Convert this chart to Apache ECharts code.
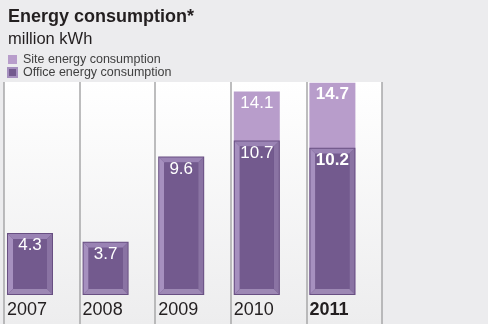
<!DOCTYPE html>
<html>
<head>
<meta charset="utf-8">
<script src="https://cdn.jsdelivr.net/npm/echarts@6/dist/echarts.min.js"></script>
<style>
  html, body { margin: 0; padding: 0; background: #ececee; }
  #chart { width: 488px; height: 324px; }
</style>
</head>
<body>
<div id="chart"></div>
<script>
// Energy consumption, million kWh
const years = ['2007', '2008', '2009', '2010', '2011'];
const siteValues = [null, null, null, 14.1, 14.7];
const officeValues = [4.3, 3.7, 9.6, 10.7, 10.2];
const highlightYear = '2011';

const FONT = '"Liberation Sans", Arial, Helvetica, sans-serif';
const BAR_W = 46;
const BAR_OFFSET = 3;
const BEVEL = 5;

function barBox(api, idx, v) {
  const base = api.coord([idx, 0]);
  const top = api.coord([idx, v]);
  const catW = api.size([1, 0])[0];
  const x0 = base[0] - catW / 2 + BAR_OFFSET;
  return { x0: x0, x1: x0 + BAR_W, y0: top[1], y1: base[1], catLeft: base[0] - catW / 2 };
}

function isBold(idx) { return years[idx] === highlightYear; }

function renderSite(params, api) {
  const idx = api.value(0);
  const v = api.value(1);
  if (v == null || isNaN(v)) return null;
  const b = barBox(api, idx, v);
  return {
    type: 'group',
    children: [
      { type: 'rect', shape: { x: b.x0, y: b.y0, width: BAR_W, height: b.y1 - b.y0 },
        style: { fill: '#b89dcb' } },
      { type: 'text', x: (b.x0 + b.x1) / 2, y: b.y0 + 3,
        style: { text: String(v), fill: '#ffffff', font: (isBold(idx) ? 'bold ' : '') + '17px ' + FONT,
                 textAlign: 'center', textVerticalAlign: 'top' } }
    ]
  };
}

function renderOffice(params, api) {
  const idx = api.value(0);
  const v = api.value(1);
  const b = barBox(api, idx, v);
  const x0 = b.x0, x1 = b.x1, y0 = b.y0, y1 = b.y1, e = BEVEL;
  const poly = (pts, fill) => ({ type: 'polygon', shape: { points: pts }, style: { fill: fill } });
  return {
    type: 'group',
    children: [
      { type: 'rect', shape: { x: x0, y: y0, width: BAR_W, height: y1 - y0 }, style: { fill: '#684f82' } },
      poly([[x0 + 1, y0 + 1], [x1 - 1, y0 + 1], [x1 - 1 - e, y0 + 1 + e], [x0 + 1 + e, y0 + 1 + e]], '#9a83b4'),
      poly([[x0 + 1, y0 + 1], [x0 + 1 + e, y0 + 1 + e], [x0 + 1 + e, y1 - 1 - e], [x0 + 1, y1 - 1]], '#a690bf'),
      poly([[x1 - 1, y0 + 1], [x1 - 1, y1 - 1], [x1 - 1 - e, y1 - 1 - e], [x1 - 1 - e, y0 + 1 + e]], '#8a73a3'),
      poly([[x0 + 1, y1 - 1], [x0 + 1 + e, y1 - 1 - e], [x1 - 1 - e, y1 - 1 - e], [x1 - 1, y1 - 1]], '#9d88b4'),
      { type: 'rect', shape: { x: x0 + 1 + e, y: y0 + 1 + e, width: BAR_W - 2 - 2 * e, height: y1 - y0 - 2 - 2 * e },
        style: { fill: '#735a8e' } },
      { type: 'text', x: (x0 + x1) / 2, y: y0 + 4,
        style: { text: String(v), fill: '#ffffff', font: (isBold(idx) ? 'bold ' : '') + '17px ' + FONT,
                 textAlign: 'center', textVerticalAlign: 'top' } },
      { type: 'text', x: b.catLeft + 3, y: y1 + 6,
        style: { text: years[idx], fill: '#231f20', font: (isBold(idx) ? 'bold ' : '') + '18px ' + FONT,
                 textAlign: 'left', textVerticalAlign: 'top' } }
    ]
  };
}

const chart = echarts.init(document.getElementById('chart'), null, { renderer: 'canvas' });
chart.setOption({
  backgroundColor: '#ececee',
  animation: false,
  title: {
    text: 'Energy consumption*',
    subtext: 'million kWh',
    left: 3, top: 3,
    itemGap: 5,
    textStyle: { fontFamily: FONT, fontSize: 18, fontWeight: 'bold', color: '#231f20' },
    subtextStyle: { fontFamily: FONT, fontSize: 16.5, color: '#231f20' }
  },
  legend: {
    orient: 'vertical',
    left: 7, top: 53, padding: 0,
    itemWidth: 9, itemHeight: 9, itemGap: 0,
    textStyle: { fontFamily: FONT, fontSize: 12.5, color: '#404040', padding: [0, 0, 0, 1] },
    data: [
      { name: 'Site energy consumption', icon: 'rect', itemStyle: { color: '#b89dcb' } },
      { name: 'Office energy consumption', icon: 'rect',
        itemStyle: { color: '#735a8e', borderColor: '#a690bf', borderWidth: 2 } }
    ]
  },
  grid: {
    left: 4, right: 106, top: 82, bottom: 0,
    show: true, borderWidth: 0,
    backgroundColor: new echarts.graphic.LinearGradient(0, 0, 0, 1, [
      { offset: 0, color: '#ffffff' },
      { offset: 1, color: '#ededee' }
    ])
  },
  xAxis: {
    type: 'category',
    data: years,
    boundaryGap: true,
    axisLine: { show: false },
    axisTick: { show: false },
    axisLabel: { show: false },
    splitLine: { show: true, interval: 0, lineStyle: { color: '#a7a7a9', width: 1.5 } }
  },
  yAxis: {
    type: 'value',
    min: -2, max: 14.75,
    show: false
  },
  series: [
    {
      name: 'Site energy consumption',
      type: 'custom',
      renderItem: renderSite,
      itemStyle: { color: '#b89dcb' },
      encode: { x: 0, y: 1 },
      data: siteValues.map((v, i) => [i, v == null ? NaN : v])
    },
    {
      name: 'Office energy consumption',
      type: 'custom',
      renderItem: renderOffice,
      itemStyle: { color: '#735a8e' },
      encode: { x: 0, y: 1 },
      data: officeValues.map((v, i) => [i, v])
    }
  ]
});
</script>
</body>
</html>
